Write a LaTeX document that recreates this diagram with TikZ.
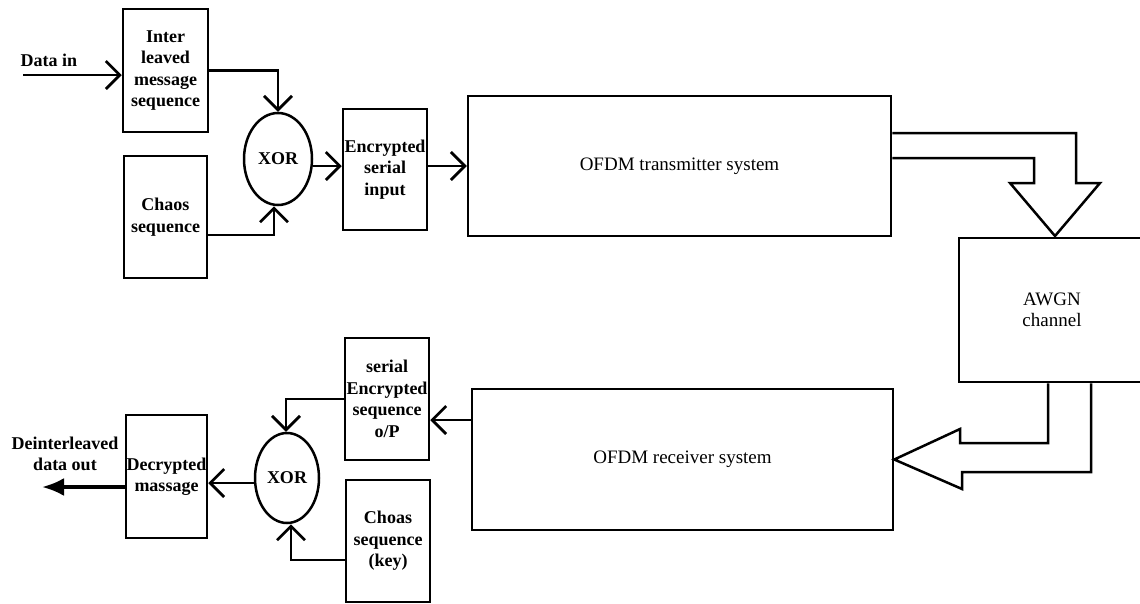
\documentclass[tikz,border=0pt]{standalone}
\usepackage{fontspec}
\setmainfont{Liberation Serif}
\usetikzlibrary{shapes.geometric,arrows.meta,calc}
\begin{document}
\begin{tikzpicture}[x=1pt,y=-1pt,
 blk/.style={draw,line width=2.5pt,inner sep=0pt,align=center,font=\fontsize{18}{21.5}\selectfont\bfseries},
 big/.style={draw,line width=2.5pt,inner sep=0pt,align=center,font=\fontsize{19}{21}\selectfont},
 xorn/.style={draw,ellipse,line width=2.5pt,inner sep=0pt,font=\fontsize{18}{21.5}\selectfont\bfseries},
 lbl/.style={inner sep=0pt,align=center,font=\fontsize{18}{21.5}\selectfont\bfseries},
 arr/.style={line width=2.5pt,-{Straight Barb[length=14pt,width=28pt,line width=2.8pt]}},
 hollow/.style={line width=2.5pt,line join=miter}
]
\clip (0,0) rectangle (1140,603);
\fill[white] (0,0) rectangle (1140,603);

\node[blk,minimum width=85pt,minimum height=123pt] (inter) at (165.5,70.5) {Inter\\leaved\\message\\sequence};
\node[blk,minimum width=83pt,minimum height=122pt] (chaos) at (165.5,217) {Chaos\\sequence};
\node[xorn,minimum width=68pt,minimum height=92pt] (xa) at (278,159) {XOR};
\node[blk,minimum width=84pt,minimum height=121pt] (enc) at (385,169.5) {Encrypted\\serial\\input};
\node[big,minimum width=423pt,minimum height=140pt] (tx) at (679.5,166) {OFDM transmitter system};
\node[big,minimum width=186pt,minimum height=144pt] (awgn) at (1052,310) {AWGN\\channel};
\node[big,minimum width=421pt,minimum height=141pt] (rx) at (682.5,459.5) {OFDM receiver system};
\node[blk,minimum width=84pt,minimum height=122pt] (ser) at (387,399) {serial\\Encrypted\\sequence\\o/P};
\node[blk,minimum width=84pt,minimum height=122pt] (choas) at (388,541) {Choas\\sequence\\(key)};
\node[xorn,minimum width=64pt,minimum height=90pt] (xb) at (287,478) {XOR};
\node[blk,minimum width=81pt,minimum height=123pt] (dec) at (166.5,476.5) {Decrypted\\massage};
\node[lbl] (lin) at (49,60) {Data in};
\node[lbl] (lout) at (65,454) {Deinterleaved\\data out};

% top chain
\coordinate (din) at (23,75);
\draw[arr] (din) -- (din -| inter.west);
\draw[arr] (inter.east) -| (xa.north);
\draw[arr] ($(chaos.east)+(0,18)$) -| ($(xa.south)+(-4,0)$);
\coordinate (xao) at ($(xa.east)+(0,7)$);
\draw[arr] (xao) -- (xao -| enc.west);
\draw[arr] (enc.east |- tx.west) -- (tx.west);

% hollow arrows
\draw[hollow] ($(tx.east)+(0,-33)$) -| (1076,183) -- (1100,183) -- (1055,236) -- (1010,183) -- (1034,183) |- ($(tx.east)+(0,-8)$);
\draw[hollow] ($(awgn.south)+(-4,0)$) |- (960,443) -- (960,429) -- (rx.east) -- (962,489) -- (962,472) -| ($(awgn.south)+(39,0)$);

% bottom chain
\coordinate (rxo) at ($(rx.west)+(0,-39.5)$);
\draw[arr] (rxo) -- (rxo -| ser.east);
\draw[arr] (ser.west) -| ($(xb.north)+(-1,0)$);
\draw[arr] ($(choas.west)+(0,19)$) -| ($(xb.south)+(4,0)$);
\coordinate (xbo) at ($(xb.west)+(0,5)$);
\draw[arr] (xbo) -- (xbo -| dec.east);
\coordinate (dst) at ($(dec.west)+(0,10.5)$);
\coordinate (dout) at (42,487);
\draw[line width=3.5pt,-{Latex[length=22pt,width=18pt]}] (dst) -- (dout |- dst);
\end{tikzpicture}
\end{document}
